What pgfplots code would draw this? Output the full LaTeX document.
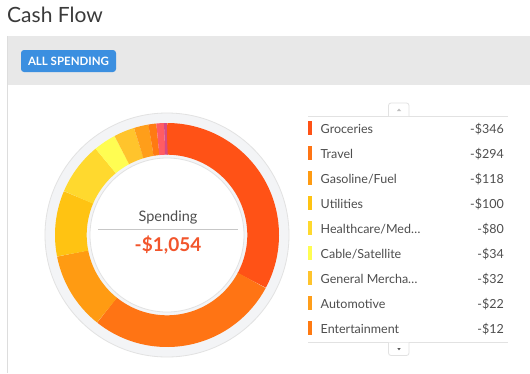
\documentclass[border=0pt]{standalone}
\usepackage{pgfplots}
\pgfplotsset{compat=1.18}
\usepackage{pgfplotstable}
\usepackage{fontspec}
\setmainfont{Lato}
\definecolor{seg0}{HTML}{FF5216}
\definecolor{seg1}{HTML}{FF7414}
\definecolor{seg2}{HTML}{FF9B12}
\definecolor{seg3}{HTML}{FFC312}
\definecolor{seg4}{HTML}{FFD92E}
\definecolor{seg5}{HTML}{FFFD52}
\definecolor{seg6}{HTML}{FFC42C}
\definecolor{seg7}{HTML}{FF9E1A}
\definecolor{seg8}{HTML}{FF7A12}
\definecolor{seg9}{HTML}{FF5C63}
\definecolor{seg10}{HTML}{D64A82}
\definecolor{titlegray}{HTML}{3A3A3A}
\definecolor{textgray}{HTML}{4E4E4E}
\definecolor{headergray}{HTML}{E8E8E8}
\definecolor{panelborder}{HTML}{DDDDDD}
\definecolor{btnblue}{HTML}{3B8FE0}
\definecolor{ringgray}{HTML}{F3F4F6}
\definecolor{ringborder}{HTML}{E2E2E2}
\definecolor{amount}{HTML}{F2552C}
\pgfplotstableread{
name value
Groceries 346
Travel 294
Gasoline 118
Utilities 100
Healthcare 80
Cable 34
General 32
Automotive 22
Entertainment 12
Other 12
Misc 4
}\spend
\begin{document}
\begin{tikzpicture}
\begin{scope}[x=1pt,y=-1pt]
\fill[white] (0,0) rectangle (530,373);
\node[anchor=base west, inner sep=0, text=titlegray, font=\fontsize{21}{21}\selectfont] at (7,22) {Cash Flow};
\draw[panelborder, line width=0.8pt] (7.5,373) -- (7.5,36) -- (530,36);
\fill[headergray] (8,36.4) rectangle (530,85);
\fill[btnblue, rounded corners=3pt] (21,50) rectangle (116,72);
\node[anchor=base, inner sep=0, text=white, font=\bfseries\fontsize{11.5}{11.5}\selectfont] at (68.5,65) {ALL SPENDING};
\fill[ringgray, draw=ringborder, line width=0.8pt] (167,235) circle[radius=122];
\end{scope}
\begin{axis}[at={(167pt,-235pt)}, anchor=center, x=1pt, y=1pt,
  xmin=-125, xmax=125, ymin=-125, ymax=125, hide axis, clip=false]
\def\cum{0}
\pgfplotsforeachungrouped \i in {0,...,10} {
  \pgfplotstablegetelem{\i}{value}\of\spend
  \let\v\pgfplotsretval
  \pgfmathsetmacro\aS{90-\cum/1054*360}
  \pgfmathsetmacro\cum{\cum+\v}
  \pgfmathsetmacro\aE{90-\cum/1054*360}
  \edef\temp{\noexpand\addplot[draw=seg\i, line width=31.7pt, line cap=butt, domain=\aE:\aS, samples=60] ({96.15*cos(x)},{96.15*sin(x)});}
  \temp
}
\end{axis}
\begin{scope}[x=1pt,y=-1pt]
\fill[white, draw=ringborder, line width=0.8pt] (167,235) circle[radius=77];
\node[anchor=base, inner sep=0, text=textgray, font=\fontsize{14.5}{14.5}\selectfont] at (168,221) {Spending};
\draw[black!22, line width=0.8pt] (98,229.7) -- (238,229.7);
\node[anchor=base, inner sep=0, text=amount, font=\bfseries\fontsize{19}{19}\selectfont] at (168,251.7) {-\$1,054};
% legend frame
\draw[ringborder, line width=0.8pt] (308,116) -- (508,116);
\draw[ringborder, line width=0.8pt] (308,342.5) -- (508,342.5);
\filldraw[fill=white, draw=ringborder, line width=0.8pt, rounded corners=2.5pt] (388.5,116) -- (388.5,103) -- (409,103) -- (409,116);
\fill[black!25] (397,111) -- (401,111) -- (399,108.5) -- cycle;
\filldraw[fill=white, draw=ringborder, line width=0.8pt, rounded corners=2.5pt] (388.5,342.5) -- (388.5,355.5) -- (409,355.5) -- (409,342.5);
\fill[black!65] (397.3,348) -- (400.7,348) -- (399,350.3) -- cycle;
\foreach \lab/\val/\c [count=\k from 0] in {Groceries/346/seg0, Travel/294/seg1, Gasoline\slash Fuel/118/seg2, Utilities/100/seg3, Healthcare\slash Med…/80/seg4, Cable\slash Satellite/34/seg5, General Mercha…/32/seg6, Automotive/22/seg7, Entertainment/12/seg8} {
  \pgfmathsetmacro\yy{133.3+25*\k}
  \fill[\c] (308,\yy-12.5) rectangle (312.3,\yy+1.5);
  \node[anchor=base west, inner sep=0, text=textgray, font=\fontsize{12.5}{12.5}\selectfont] at (320.5,\yy) {\lab};
  \node[anchor=base east, inner sep=0, text=textgray, font=\fontsize{12.5}{12.5}\selectfont] at (504,\yy) {-\$\val};
}
\end{scope}
\pgfresetboundingbox
\path[use as bounding box] (0,0) rectangle (530pt,-373pt);
\end{tikzpicture}
\end{document}
